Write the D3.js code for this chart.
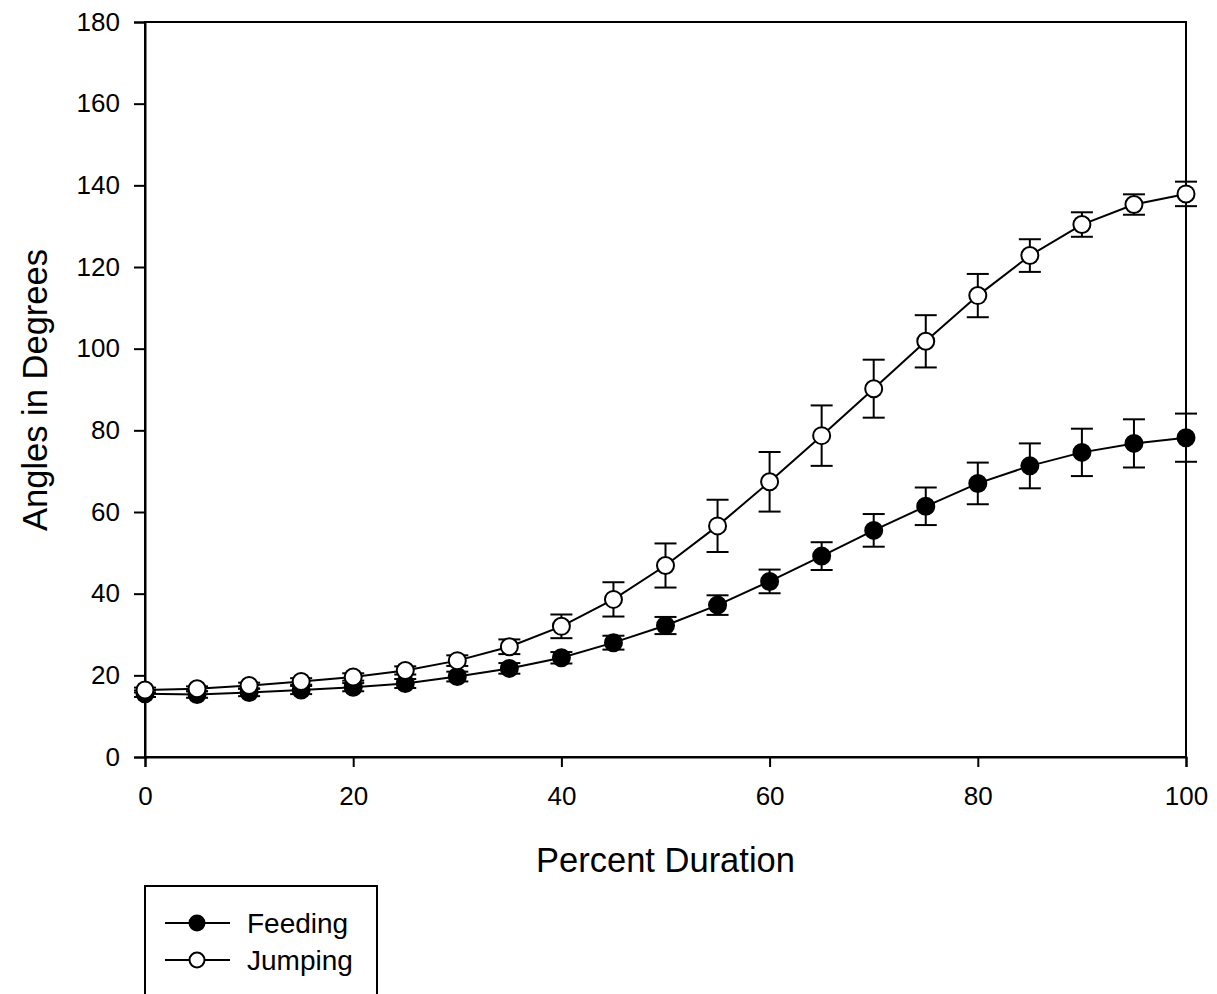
<!DOCTYPE html>
<html><head><meta charset="utf-8">
<script src="https://cdn.jsdelivr.net/npm/d3@7/dist/d3.min.js"></script>
<style>body{margin:0;background:#fff}svg{display:block}text{font-family:"Liberation Sans",Arial,sans-serif}</style>
</head><body><svg id="c" width="1217" height="994"></svg>
<script>
const percent = [0,5,10,15,20,25,30,35,40,45,50,55,60,65,70,75,80,85,90,95,100];
const feeding = [15.5,15.3,15.8,16.4,17.1,18.0,19.7,21.7,24.3,28.0,32.2,37.2,43.0,49.2,55.5,61.4,67.0,71.3,74.6,76.8,78.2];
const feedingErr = [0.8,0.8,0.9,1.0,1.0,1.1,1.2,1.3,1.4,1.7,2.1,2.4,2.9,3.4,4.0,4.6,5.1,5.5,5.8,5.9,5.9];
const jumping = [16.4,16.7,17.5,18.5,19.6,21.2,23.6,27.0,32.0,38.6,46.9,56.6,67.4,78.7,90.2,101.8,113.0,122.8,130.4,135.3,137.9];
const jumpingErr = [0.6,0.6,0.7,0.8,0.9,1.0,1.3,1.8,2.9,4.2,5.4,6.4,7.3,7.4,7.1,6.4,5.3,4.0,3.0,2.5,3.0];
const xTicks = [0,20,40,60,80,100];
const yTicks = [0,20,40,60,80,100,120,140,160,180];

const svg = d3.select("#c");
const L=145,R=1186,T=22,B=757;
const x = d3.scaleLinear().domain([0,100]).range([L,R]);
const y = d3.scaleLinear().domain([0,180]).range([B,T]);

// frame
svg.append("rect").attr("x",L).attr("y",T).attr("width",R-L).attr("height",B-T)
  .attr("fill","none").attr("stroke","#000").attr("stroke-width",2);

const xa = svg.append("g").attr("transform",`translate(0,${B})`)
  .call(d3.axisBottom(x).tickValues(xTicks).tickSize(10).tickPadding(20));
const ya = svg.append("g").attr("transform",`translate(${L},0)`)
  .call(d3.axisLeft(y).tickValues(yTicks).tickSize(11).tickPadding(14));
[xa,ya].forEach(a=>{
  a.attr("font-size",26).attr("font-family","Liberation Sans, Arial, sans-serif");
  a.select(".domain").attr("stroke-width",2);
  a.selectAll(".tick line").attr("stroke-width",2);
  a.selectAll("text").attr("fill","#000");
});

svg.append("text").attr("x",(L+R)/2).attr("y",872).attr("text-anchor","middle")
  .attr("font-size",34.5).text("Percent Duration");
svg.append("text").attr("transform","translate(47,390) rotate(-90)").attr("text-anchor","middle")
  .attr("font-size",34.5).text("Angles in Degrees");

function series(vals, errs, fill){
  const data = percent.map((p,i)=>({p,v:vals[i],e:errs[i]}));
  const g = svg.append("g");
  const line = d3.line().x(d=>x(d.p)).y(d=>y(d.v));
  g.append("path").datum(data).attr("d",line).attr("fill","none").attr("stroke","#000").attr("stroke-width",2);
  const eb = g.selectAll(".eb").data(data).join("g");
  eb.append("line").attr("x1",d=>x(d.p)).attr("x2",d=>x(d.p)).attr("y1",d=>y(d.v+d.e)).attr("y2",d=>y(d.v-d.e)).attr("stroke","#000").attr("stroke-width",2);
  [1,-1].forEach(s=>{
    eb.append("line").attr("x1",d=>x(d.p)-11).attr("x2",d=>x(d.p)+11).attr("y1",d=>y(d.v+s*d.e)).attr("y2",d=>y(d.v+s*d.e)).attr("stroke","#000").attr("stroke-width",2);
  });
  g.selectAll("circle").data(data).join("circle").attr("cx",d=>x(d.p)).attr("cy",d=>y(d.v)).attr("r",8.5)
    .attr("fill",fill).attr("stroke","#000").attr("stroke-width",2);
}
series(feeding, feedingErr, "#000");
series(jumping, jumpingErr, "#fff");

// legend
const lg = svg.append("g");
lg.append("path").attr("d",`M${L},1000V886H377V1000`).attr("fill","none").attr("stroke","#000").attr("stroke-width",2);
const legendItems = [{name:"Feeding",fill:"#000",y:923},{name:"Jumping",fill:"#fff",y:960}];
legendItems.forEach(it=>{
  lg.append("line").attr("x1",165).attr("x2",230).attr("y1",it.y).attr("y2",it.y).attr("stroke","#000").attr("stroke-width",2);
  lg.append("circle").attr("cx",197).attr("cy",it.y).attr("r",7.5).attr("fill",it.fill).attr("stroke","#000").attr("stroke-width",2);
  lg.append("text").attr("x",247).attr("y",it.y+10).attr("font-size",28).text(it.name);
});
</script></body></html>
